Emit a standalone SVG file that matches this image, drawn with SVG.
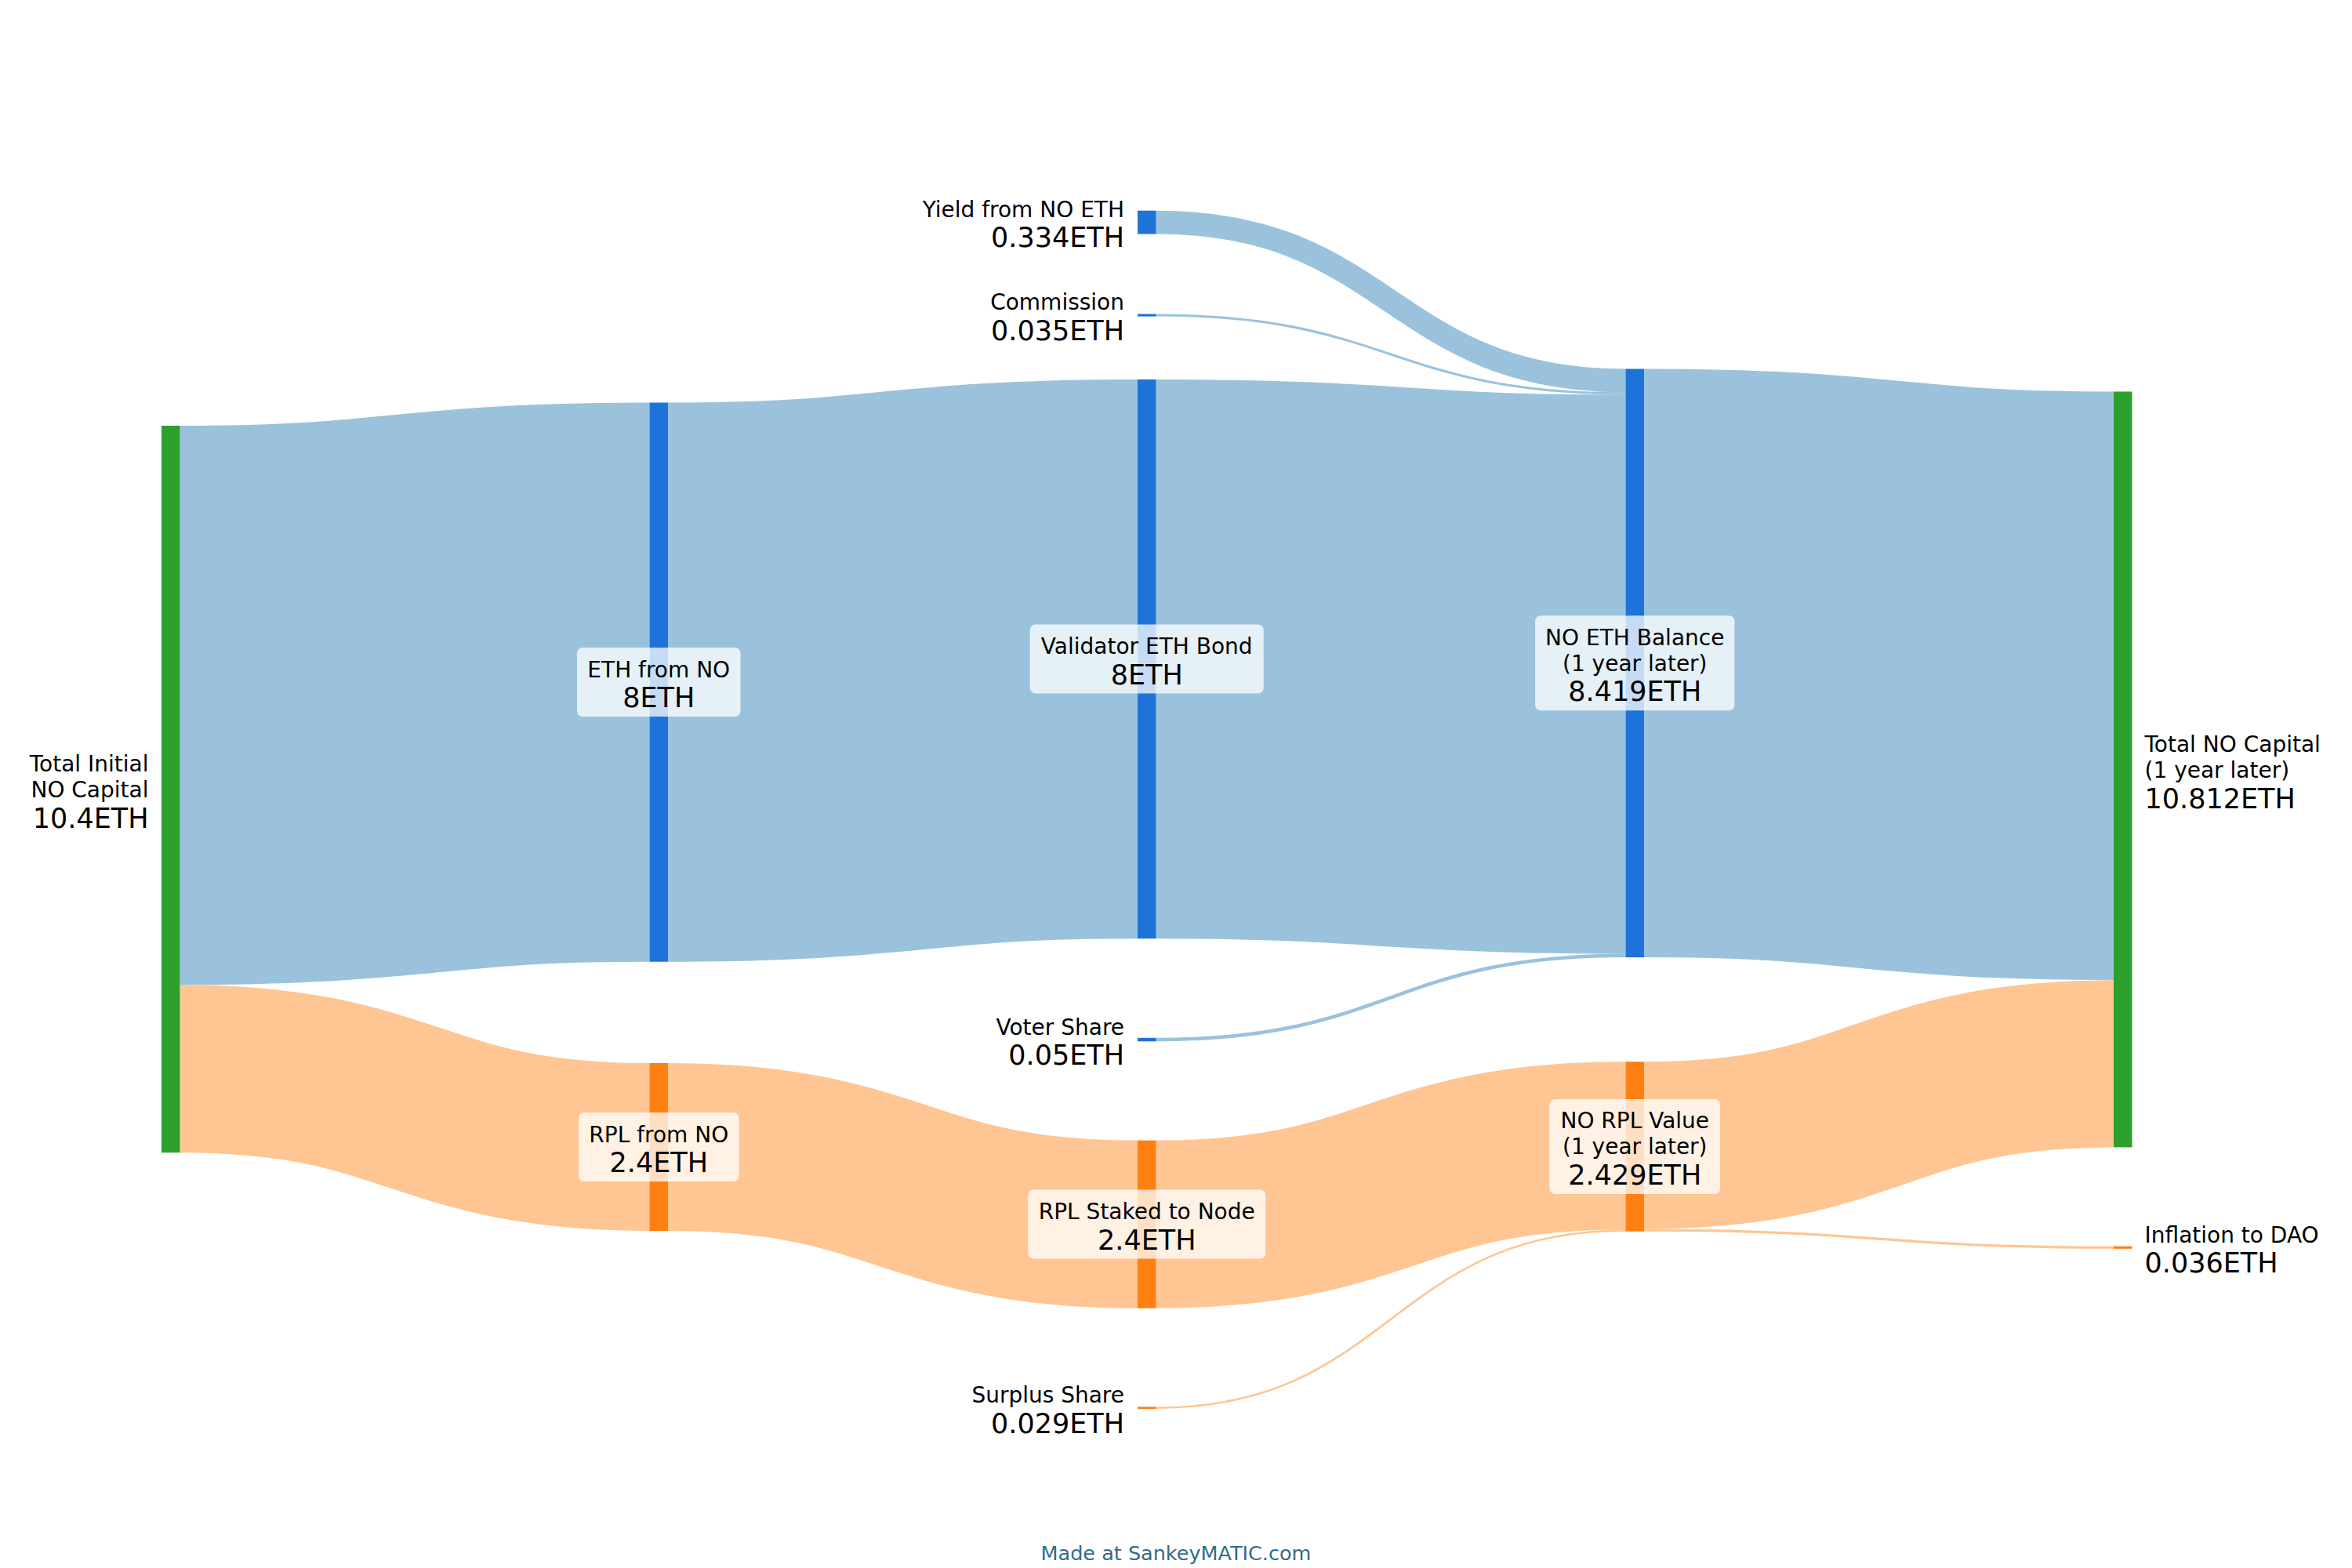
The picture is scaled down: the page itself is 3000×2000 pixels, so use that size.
<svg xmlns="http://www.w3.org/2000/svg" width="3000" height="2000" viewBox="0 0 3000 2000">
<style>
  text { font-family: "DejaVu Sans", "Liberation Sans", sans-serif; fill: #000; }
  .nm { font-size: 28px; }
  .val { font-size: 35px; }
  .end { text-anchor: end; }
  .mid { text-anchor: middle; }
  .lk { fill: none; stroke-opacity: 0.45; }
  .lb { stroke: #1f77b4; }
  .lo { stroke: #ff7f0e; }
  .ng { fill: #2ca02c; }
  .nb { fill: #1e73d8; }
  .no { fill: #fe8012; }
  .bx { fill: #fff; fill-opacity: 0.75; }
  .credit { font-size: 25.5px; fill: #346b89; text-anchor: middle; }
</style>
<rect x="0" y="0" width="3000" height="2000" fill="#fff"/>
<g id="connectors">
  <path class="lk lb" stroke-width="713.2" d="M229.5,899.6 C529,899.6 529,870.1 828.5,870.1"/>
  <path class="lk lo" stroke-width="214" d="M229.5,1363.2 C529,1363.2 529,1463 828.5,1463"/>
  <path class="lk lb" stroke-width="713.2" d="M852,870.1 C1151.5,870.1 1151.5,840.6 1451,840.6"/>
  <path class="lk lo" stroke-width="214" d="M852,1463 C1151.5,1463 1151.5,1561.6 1451,1561.6"/>
  <path class="lk lb" stroke-width="29.8" d="M1474.5,283.6 C1774,283.6 1774,485.4 2073.5,485.4"/>
  <path class="lk lb" stroke-width="3.1" d="M1474.5,402.05 C1774,402.05 1774,501.85 2073.5,501.85"/>
  <path class="lk lb" stroke-width="713.2" d="M1474.5,840.6 C1774,840.6 1774,860 2073.5,860"/>
  <path class="lk lb" stroke-width="4.46" d="M1474.5,1326 C1774,1326 1774,1218.8 2073.5,1218.8"/>
  <path class="lk lo" stroke-width="214" d="M1474.5,1561.6 C1774,1561.6 1774,1461.2 2073.5,1461.2"/>
  <path class="lk lo" stroke-width="2.6" d="M1474.5,1795.7 C1774,1795.7 1774,1569.5 2073.5,1569.5"/>
  <path class="lk lb" stroke-width="750.6" d="M2097,845.8 C2396.5,845.8 2396.5,874.8 2696,874.8"/>
  <path class="lk lo" stroke-width="213.3" d="M2097,1460.9 C2396.5,1460.9 2396.5,1356.8 2696,1356.8"/>
  <path class="lk lo" stroke-width="3.2" d="M2097,1569.1 C2396.5,1569.1 2396.5,1591.2 2696,1591.2"/>
</g>
<g id="node-total-initial">
  <rect class="ng" x="206" y="543" width="23.5" height="927.2"/>
  <text class="nm end" x="189.5" y="984.1">Total Initial</text>
  <text class="nm end" x="189.5" y="1017.1">NO Capital</text>
  <text class="val end" x="189.5" y="1055.6">10.4ETH</text>
</g>
<g id="node-eth-from-no">
  <rect class="nb" x="828.5" y="513.5" width="23.5" height="713.2"/>
  <rect class="bx" x="736" y="826.1" width="208.5" height="88" rx="7"/>
  <text class="nm mid" x="840.25" y="863.6">ETH from NO</text>
  <text class="val mid" x="840.25" y="902.1">8ETH</text>
</g>
<g id="node-rpl-from-no">
  <rect class="no" x="828.5" y="1356" width="23.5" height="214"/>
  <rect class="bx" x="738" y="1419" width="204.5" height="88" rx="7"/>
  <text class="nm mid" x="840.25" y="1456.5">RPL from NO</text>
  <text class="val mid" x="840.25" y="1495">2.4ETH</text>
</g>
<g id="node-yield">
  <rect class="nb" x="1451" y="268.7" width="23.5" height="29.8"/>
  <text class="nm end" x="1434" y="276.6">Yield from NO ETH</text>
  <text class="val end" x="1434" y="314.6">0.334ETH</text>
</g>
<g id="node-commission">
  <rect class="nb" x="1451" y="400.5" width="23.5" height="3.1"/>
  <text class="nm end" x="1434" y="395">Commission</text>
  <text class="val end" x="1434" y="433.5">0.035ETH</text>
</g>
<g id="node-validator-bond">
  <rect class="nb" x="1451" y="484" width="23.5" height="713.2"/>
  <rect class="bx" x="1313.75" y="796.6" width="298" height="88" rx="7"/>
  <text class="nm mid" x="1462.75" y="834.1">Validator ETH Bond</text>
  <text class="val mid" x="1462.75" y="872.6">8ETH</text>
</g>
<g id="node-voter-share">
  <rect class="nb" x="1451" y="1323.8" width="23.5" height="4.46"/>
  <text class="nm end" x="1434" y="1319.5">Voter Share</text>
  <text class="val end" x="1434" y="1358">0.05ETH</text>
</g>
<g id="node-rpl-staked">
  <rect class="no" x="1451" y="1454.6" width="23.5" height="214"/>
  <rect class="bx" x="1311.25" y="1517.6" width="303" height="88" rx="7"/>
  <text class="nm mid" x="1462.75" y="1555.1">RPL Staked to Node</text>
  <text class="val mid" x="1462.75" y="1593.6">2.4ETH</text>
</g>
<g id="node-surplus-share">
  <rect class="no" x="1451" y="1794.4" width="23.5" height="2.6"/>
  <text class="nm end" x="1434" y="1789.2">Surplus Share</text>
  <text class="val end" x="1434" y="1827.7">0.029ETH</text>
</g>
<g id="node-no-eth-balance">
  <rect class="nb" x="2073.5" y="470.5" width="23.5" height="750.6"/>
  <rect class="bx" x="1958.1" y="785.3" width="254.3" height="121" rx="7"/>
  <text class="nm mid" x="2085.25" y="822.8">NO ETH Balance</text>
  <text class="nm mid" x="2085.25" y="855.8">(1 year later)</text>
  <text class="val mid" x="2085.25" y="894.3">8.419ETH</text>
</g>
<g id="node-no-rpl-value">
  <rect class="no" x="2073.5" y="1354.2" width="23.5" height="216.5"/>
  <rect class="bx" x="1976.35" y="1401.9" width="217.8" height="121" rx="7"/>
  <text class="nm mid" x="2085.25" y="1439.4">NO RPL Value</text>
  <text class="nm mid" x="2085.25" y="1472.4">(1 year later)</text>
  <text class="val mid" x="2085.25" y="1510.9">2.429ETH</text>
</g>
<g id="node-total-no-capital">
  <rect class="ng" x="2696" y="499.5" width="23.5" height="963.9"/>
  <text class="nm" x="2735.5" y="959">Total NO Capital</text>
  <text class="nm" x="2735.5" y="992">(1 year later)</text>
  <text class="val" x="2735.5" y="1030.5">10.812ETH</text>
</g>
<g id="node-inflation-dao">
  <rect class="no" x="2696" y="1589.6" width="23.5" height="3.2"/>
  <text class="nm" x="2735.5" y="1584.9">Inflation to DAO</text>
  <text class="val" x="2735.5" y="1623.4">0.036ETH</text>
</g>
<text class="credit" x="1500" y="1990">Made at SankeyMATIC.com</text>
</svg>
